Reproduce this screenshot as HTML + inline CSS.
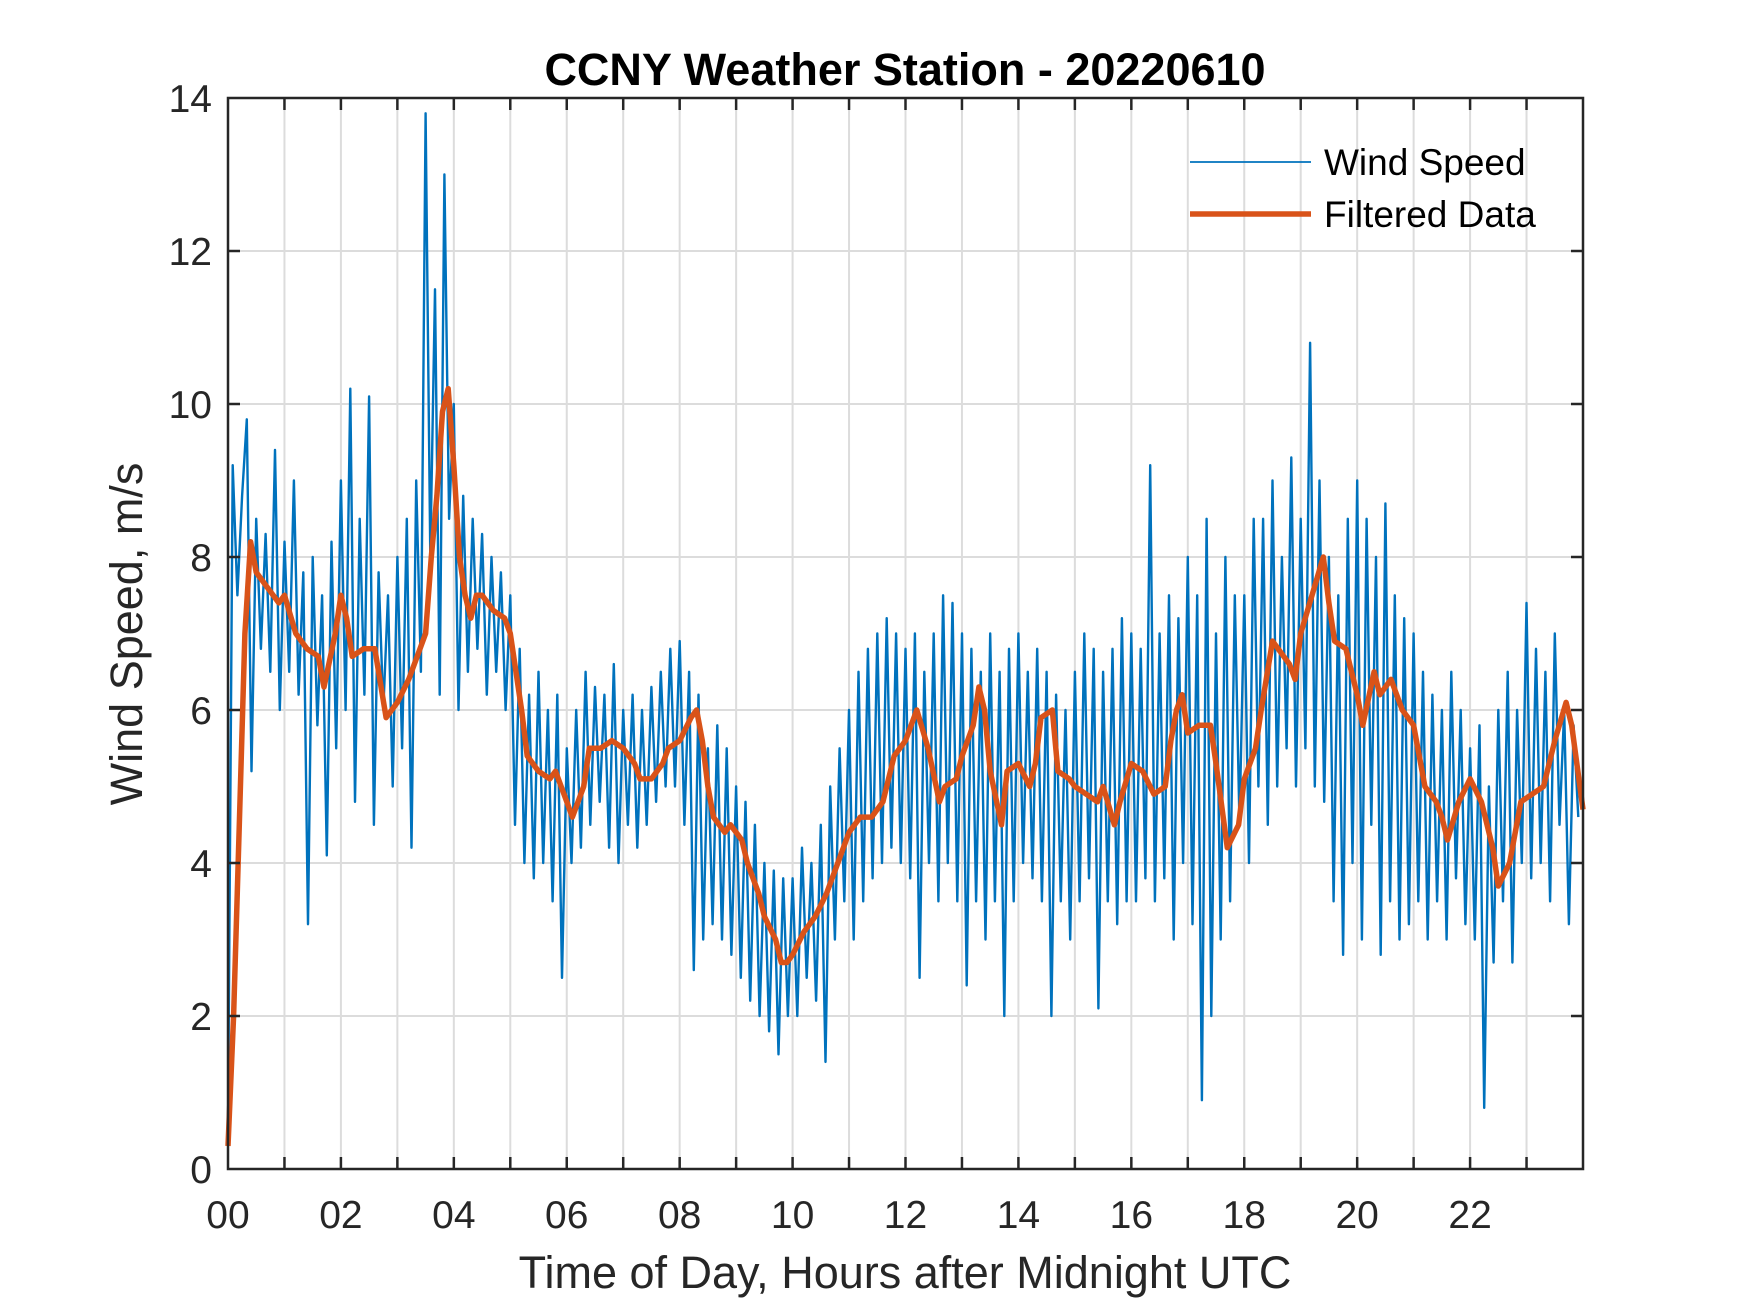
<!DOCTYPE html>
<html><head><meta charset="utf-8"><style>
html,body{margin:0;padding:0;background:#fff;}
svg{display:block;font-family:"Liberation Sans",Arial,sans-serif;}
</style></head><body>
<svg id="chart" width="1750" height="1313" viewBox="0 0 1750 1313">
<rect x="0" y="0" width="1750" height="1313" fill="#fff"/>
<g id="grid"></g>
<g id="series"></g>
<rect x="228" y="98" width="1355" height="1071" fill="none" stroke="#262626" stroke-width="2.5"/>
<g id="ticks"></g>
<text x="905" y="85" text-anchor="middle" font-size="45" font-weight="bold" fill="#000">CCNY Weather Station - 20220610</text>
<text x="905" y="1288" text-anchor="middle" font-size="45" fill="#262626">Time of Day, Hours after Midnight UTC</text>
<text transform="translate(142,634) rotate(-90)" text-anchor="middle" font-size="45" fill="#262626">Wind Speed, m/s</text>
<g>
<line x1="1190" y1="162" x2="1311" y2="162" stroke="#0072BD" stroke-width="1.8"/>
<text x="1324" y="175" font-size="37" fill="#000">Wind Speed</text>
<line x1="1190" y1="214" x2="1311" y2="214" stroke="#D95319" stroke-width="5.5"/>
<text x="1324" y="227" font-size="37" fill="#000">Filtered Data</text>
</g>
</svg>
<script>
const windSpeed = [
0.5,9.2,7.5,8.8,9.8,5.2,8.5,6.8,8.3,6.5,9.4,6.0,
8.2,6.5,9.0,6.2,7.8,3.2,8.0,5.8,7.5,4.1,8.2,5.5,
9.0,6.0,10.2,4.8,8.5,6.2,10.1,4.5,7.8,6.0,7.5,5.0,
8.0,5.5,8.5,4.2,9.0,6.5,13.8,8.0,11.5,6.2,13.0,8.5,
10.0,6.0,8.8,6.5,8.5,6.8,8.3,6.2,8.0,6.5,7.8,6.0,
7.5,4.5,6.8,4.0,6.2,3.8,6.5,4.0,6.0,3.5,6.2,2.5,
5.5,4.0,6.0,4.2,6.5,4.5,6.3,4.8,6.2,4.2,6.6,4.0,
6.0,4.5,6.2,4.2,6.0,4.5,6.3,4.8,6.5,5.0,6.8,5.0,
6.9,4.5,6.5,2.6,6.2,3.0,5.5,3.2,5.8,3.0,5.5,2.8,
5.0,2.5,4.8,2.2,4.5,2.0,4.0,1.8,3.9,1.5,3.8,2.0,
3.8,2.0,4.2,2.5,4.0,2.2,4.5,1.4,5.0,3.0,5.5,3.5,
6.0,3.0,6.5,3.5,6.8,3.8,7.0,4.0,7.2,4.2,7.0,4.0,
6.8,3.8,7.0,2.5,6.5,4.0,7.0,3.5,7.5,4.0,7.4,3.5,
7.0,2.4,6.8,3.5,6.5,3.0,7.0,3.5,6.5,2.0,6.8,3.5,
7.0,4.0,6.5,3.8,6.8,3.5,6.5,2.0,6.2,3.5,6.0,3.0,
6.5,3.5,7.0,3.8,6.8,2.1,6.5,3.5,6.8,3.2,7.2,3.5,
7.0,3.5,6.8,3.8,9.2,3.5,7.0,3.8,7.5,3.0,7.2,4.0,
8.0,3.2,7.5,0.9,8.5,2.0,7.0,3.0,8.0,3.5,7.5,4.5,
7.5,4.0,8.5,5.0,8.5,4.5,9.0,5.0,8.0,5.5,9.3,5.0,
8.5,5.5,10.8,5.0,9.0,4.8,8.0,3.5,7.5,2.8,8.5,4.0,
9.0,3.0,8.5,4.5,8.0,2.8,8.7,3.5,7.5,3.0,7.2,3.2,
7.0,3.5,6.5,3.0,6.2,3.5,6.0,3.0,6.5,3.8,6.0,3.2,
5.5,3.0,5.8,0.8,5.0,2.7,6.0,3.5,6.5,2.7,6.0,4.0,
7.4,3.8,6.8,4.0,6.5,3.5,7.0,4.5,6.0,3.2,5.8,4.6];
const filteredHours = [0,0.1,0.2,0.3,0.4,0.5,0.7,0.9,1.0,1.2,1.4,1.6,1.7,1.9,2.0,2.1,2.2,2.4,2.6,2.8,3.0,3.2,3.4,3.5,3.6,3.7,3.8,3.9,4.0,4.1,4.2,4.3,4.4,4.5,4.7,4.9,5.0,5.2,5.3,5.5,5.7,5.8,6.0,6.1,6.3,6.4,6.6,6.8,7.0,7.2,7.3,7.5,7.7,7.8,8.0,8.2,8.3,8.4,8.5,8.6,8.8,8.9,9.1,9.2,9.4,9.5,9.7,9.8,9.9,10.0,10.2,10.4,10.6,10.8,11.0,11.2,11.4,11.6,11.8,12.0,12.2,12.4,12.6,12.7,12.9,13.0,13.2,13.3,13.4,13.5,13.7,13.8,14.0,14.2,14.3,14.4,14.6,14.7,14.9,15.0,15.2,15.4,15.5,15.7,15.8,16.0,16.2,16.4,16.6,16.7,16.8,16.9,17.0,17.2,17.4,17.5,17.7,17.9,18.0,18.2,18.3,18.5,18.6,18.8,18.9,19.0,19.2,19.4,19.5,19.6,19.8,19.9,20.0,20.1,20.3,20.4,20.6,20.8,21.0,21.2,21.4,21.5,21.6,21.8,22.0,22.2,22.4,22.5,22.7,22.9,23.1,23.3,23.5,23.7,23.8,24.0];
const filteredValues = [0.3,2,4.5,7,8.2,7.8,7.6,7.4,7.5,7.0,6.8,6.7,6.3,7.0,7.5,7.2,6.7,6.8,6.8,5.9,6.1,6.4,6.8,7.0,8.0,8.8,9.9,10.2,9.2,8.0,7.5,7.2,7.5,7.5,7.3,7.2,7.0,6.0,5.4,5.2,5.1,5.2,4.8,4.6,5.0,5.5,5.5,5.6,5.5,5.3,5.1,5.1,5.3,5.5,5.6,5.9,6.0,5.6,5.0,4.6,4.4,4.5,4.3,4.0,3.6,3.3,3.0,2.7,2.7,2.8,3.1,3.3,3.6,4.0,4.4,4.6,4.6,4.8,5.4,5.6,6.0,5.5,4.8,5.0,5.1,5.4,5.8,6.3,6.0,5.2,4.5,5.2,5.3,5.0,5.3,5.9,6.0,5.2,5.1,5.0,4.9,4.8,5.0,4.5,4.8,5.3,5.2,4.9,5.0,5.6,6.0,6.2,5.7,5.8,5.8,5.3,4.2,4.5,5.1,5.5,6.0,6.9,6.8,6.6,6.4,7.0,7.5,8.0,7.4,6.9,6.8,6.5,6.2,5.8,6.5,6.2,6.4,6.0,5.8,5.0,4.8,4.6,4.3,4.8,5.1,4.8,4.2,3.7,4.0,4.8,4.9,5.0,5.6,6.1,5.8,4.7];
const xTickLabels = ["00","02","04","06","08","10","12","14","16","18","20","22"];
const yTickLabels = ["0","2","4","6","8","10","12","14"];

const L=228,R=1583,T=98,B=1169;
const xMin=0,xMax=24,yMin=0,yMax=14;
function xs(h){return L+(h-xMin)/(xMax-xMin)*(R-L);}
function ys(v){return B-(v-yMin)/(yMax-yMin)*(B-T);}
const NS="http://www.w3.org/2000/svg";
function mk(tag,attrs,parent){const e=document.createElementNS(NS,tag);for(const k in attrs)e.setAttribute(k,attrs[k]);parent.appendChild(e);return e;}
const grid=document.getElementById('grid'),ticks=document.getElementById('ticks'),series=document.getElementById('series');
for(let h=1;h<24;h++){
  const x=xs(h);
  const g=mk('line',{x1:x,y1:T,x2:x,y2:B,stroke:'#dcdcdc','stroke-width':2},grid);
  
  
  const t1=mk('line',{x1:x,y1:B,x2:x,y2:B-12,stroke:'#262626','stroke-width':2.5},ticks);
  
  
  const t2=mk('line',{x1:x,y1:T,x2:x,y2:T+12,stroke:'#262626','stroke-width':2.5},ticks);
  
  
}
xTickLabels.forEach((lab,i)=>{
  const t=mk('text',{x:xs(i*2),y:1228,'text-anchor':'middle','font-size':39,fill:'#262626'},ticks);
  t.textContent=lab;
  
  
});
yTickLabels.forEach((lab)=>{
  const v=parseFloat(lab),y=ys(v);
  if(v>yMin&&v<yMax){
    const g=mk('line',{x1:L,y1:y,x2:R,y2:y,stroke:'#dcdcdc','stroke-width':2},grid);
    
    
    const t1=mk('line',{x1:L,y1:y,x2:L+12,y2:y,stroke:'#262626','stroke-width':2.5},ticks);
    
    
    const t2=mk('line',{x1:R,y1:y,x2:R-12,y2:y,stroke:'#262626','stroke-width':2.5},ticks);
    
    
  }
  const t=mk('text',{x:212,y:y+14,'text-anchor':'end','font-size':39,fill:'#262626'},ticks);
  t.textContent=lab;
  
  
});
const step=24/windSpeed.length;
let d=windSpeed.map((v,i)=>(i?'L':'M')+xs(i*step).toFixed(1)+','+ys(v).toFixed(1)).join('');
const wl=mk('path',{d:d,fill:'none',stroke:'#0072BD','stroke-width':2.4,'stroke-linejoin':'round'},series);


d=filteredValues.map((v,i)=>(i?'L':'M')+xs(filteredHours[i]).toFixed(1)+','+ys(v).toFixed(1)).join('');
const fl=mk('path',{d:d,fill:'none',stroke:'#D95319','stroke-width':5.5,'stroke-linejoin':'round'},series);


</script>
</body></html>
